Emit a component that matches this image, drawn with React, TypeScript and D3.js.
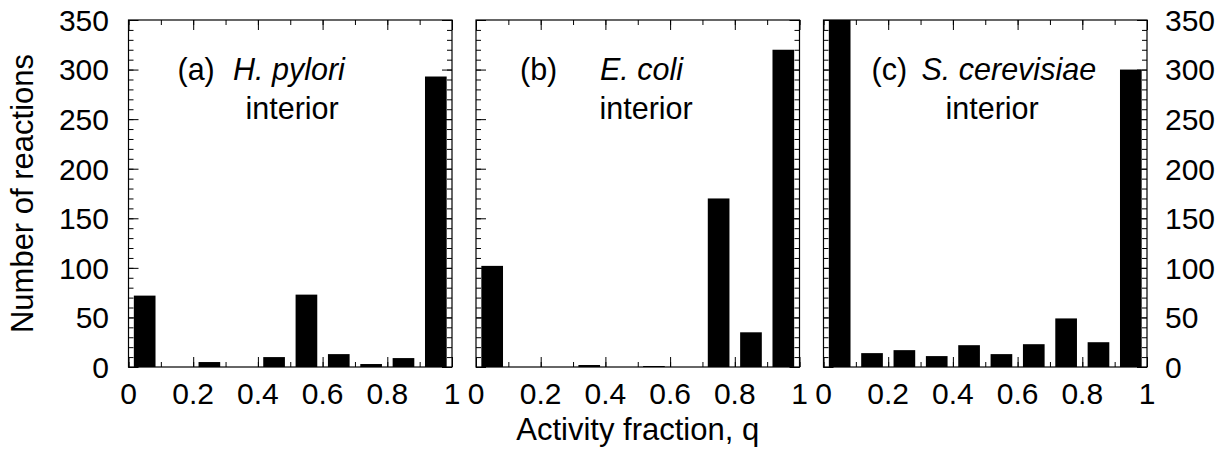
import React, { useEffect, useRef } from "react";
import * as d3 from "d3";

// histogram bins (left edge of each 0.1 bin)
const binStarts = [0, 0.1, 0.2, 0.3, 0.4, 0.5, 0.6, 0.7, 0.8, 0.9];
const pyloriCounts = [72, 0, 5, 0, 10, 73, 13, 3, 9, 293];
const coliCounts = [102, 0, 0, 2, 0, 1, 0, 170, 35, 320];
const cerevisiaeCounts = [380, 14, 17, 11, 22, 13, 23, 49, 25, 300];

const panelTags = ["(a)", "(b)", "(c)"];
const organisms = ["H. pylori", "E. coli", "S. cerevisiae"];
const subtitle = "interior";

const xTickLabels = [0, 0.2, 0.4, 0.6, 0.8, 1];
const yTickLabels = [0, 50, 100, 150, 200, 250, 300, 350];

const xTitle = "Activity fraction, q";
const yTitle = "Number of reactions";

const W = 1229;
const H = 451;
const top = 20;
const bottom = 367;
const panelW = 323.5;
const panelLefts = [128.5, 476, 823.5];
// text placement inside each panel (offsets from panel left)
const tagDx = [49, 44, 48];
const organismDx = [104.5, 124, 98];
const subtitleDx = [117, 123.5, 122];

const binWidth = 0.1;
const barWidth = 0.067;
const font = "'Liberation Sans', Arial, Helvetica, sans-serif";

const App = () => {
  const svgRef = useRef(null);

  useEffect(() => {
    const svg = d3.select(svgRef.current);
    svg.selectAll("*").remove();

    const counts = [pyloriCounts, coliCounts, cerevisiaeCounts];
    const y = d3.scaleLinear().domain([0, 350]).range([bottom, top]).clamp(true);

    counts.forEach((series, i) => {
      const left = panelLefts[i];
      const right = left + panelW;
      const x = d3.scaleLinear().domain([0, 1]).range([left, right]);
      const g = svg.append("g");

      // barras
      g.selectAll(".bar")
        .data(series.map((c, j) => ({ start: binStarts[j], count: c })))
        .enter()
        .append("rect")
        .attr("class", "bar")
        .attr("x", (d) => x(d.start + binWidth / 2 - barWidth / 2))
        .attr("width", x(barWidth) - x(0))
        .attr("y", (d) => y(d.count))
        .attr("height", (d) => y(0) - y(d.count))
        .attr("fill", "#000");

      // ticks hacia adentro en los cuatro lados
      const minorX = x.ticks(10);
      const majorX = xTickLabels;
      const minorY = y.ticks(35);
      const majorY = yTickLabels;
      const axes = [
        { gen: d3.axisTop(x).tickValues(minorX).tickSize(5), t: `translate(0,${bottom})` },
        { gen: d3.axisTop(x).tickValues(majorX).tickSize(10), t: `translate(0,${bottom})` },
        { gen: d3.axisBottom(x).tickValues(minorX).tickSize(5), t: `translate(0,${top})` },
        { gen: d3.axisBottom(x).tickValues(majorX).tickSize(10), t: `translate(0,${top})` },
        { gen: d3.axisRight(y).tickValues(minorY).tickSize(5), t: `translate(${left},0)` },
        { gen: d3.axisRight(y).tickValues(majorY).tickSize(10), t: `translate(${left},0)` },
        { gen: d3.axisLeft(y).tickValues(minorY).tickSize(5), t: `translate(${right},0)` },
        { gen: d3.axisLeft(y).tickValues(majorY).tickSize(10), t: `translate(${right},0)` },
      ];
      axes.forEach((a) => {
        const ag = g
          .append("g")
          .attr("transform", a.t)
          .call(a.gen.tickSizeOuter(0).tickFormat(() => ""));
        ag.select(".domain").remove();
        ag.selectAll("line").attr("stroke", "#000").attr("stroke-width", 1);
      });

      // marco
      g.append("rect")
        .attr("x", left)
        .attr("y", top)
        .attr("width", panelW)
        .attr("height", bottom - top)
        .attr("fill", "none")
        .attr("stroke", "#000")
        .attr("stroke-width", 1.2);

      // etiquetas del eje x
      g.selectAll(".xlab")
        .data(xTickLabels)
        .enter()
        .append("text")
        .attr("x", (d) => x(d))
        .attr("y", bottom + 37)
        .attr("text-anchor", "middle")
        .attr("font-family", font)
        .attr("font-size", 30)
        .text((d) => String(d));

      // textos del panel
      g.append("text")
        .attr("x", left + tagDx[i])
        .attr("y", 80)
        .attr("font-family", font)
        .attr("font-size", 30.5)
        .text(panelTags[i]);
      g.append("text")
        .attr("x", left + organismDx[i])
        .attr("y", 80)
        .attr("font-family", font)
        .attr("font-size", 30.5)
        .attr("font-style", "italic")
        .text(organisms[i]);
      g.append("text")
        .attr("x", left + subtitleDx[i])
        .attr("y", 119)
        .attr("font-family", font)
        .attr("font-size", 30.5)
        .text(subtitle);
    });

    // etiquetas del eje y (izquierda del panel a, derecha del panel c)
    svg.selectAll(".ylabL")
      .data(yTickLabels)
      .enter()
      .append("text")
      .attr("x", 109)
      .attr("y", (d) => y(d))
      .attr("dy", "0.36em")
      .attr("text-anchor", "end")
      .attr("font-family", font)
      .attr("font-size", 30)
      .text((d) => String(d));
    svg.selectAll(".ylabR")
      .data(yTickLabels)
      .enter()
      .append("text")
      .attr("x", 1165)
      .attr("y", (d) => y(d))
      .attr("dy", "0.36em")
      .attr("text-anchor", "start")
      .attr("font-family", font)
      .attr("font-size", 30)
      .text((d) => String(d));

    // títulos de ejes
    svg.append("text")
      .attr("x", panelLefts[1] + panelW / 2)
      .attr("y", 440)
      .attr("text-anchor", "middle")
      .attr("font-family", font)
      .attr("font-size", 31)
      .text(xTitle);
    svg.append("text")
      .attr("transform", `translate(33,${(top + bottom) / 2}) rotate(-90)`)
      .attr("text-anchor", "middle")
      .attr("font-family", font)
      .attr("font-size", 31)
      .text(yTitle);
  }, []);

  return (
    <svg
      ref={svgRef}
      width={W}
      height={H}
      style={{ position: "absolute", left: 0, top: 0, background: "#fff" }}
    ></svg>
  );
};

export default App;
